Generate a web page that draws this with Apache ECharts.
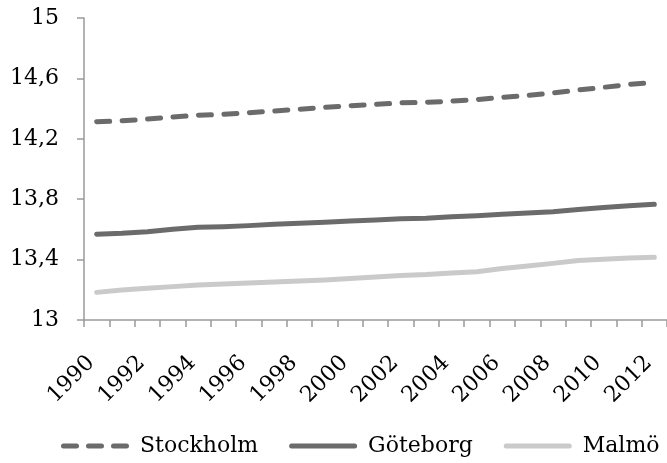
<!DOCTYPE html>
<html>
<head>
<meta charset="utf-8">
<script src="https://cdn.jsdelivr.net/npm/echarts@6/dist/echarts.min.js"></script>
<style>
  html, body { margin: 0; padding: 0; background: #fff; }
  #chart { width: 667px; height: 463px; }
</style>
</head>
<body>
<div id="chart"></div>
<script>
// Years on the category axis
var years = ['1990','1991','1992','1993','1994','1995','1996','1997','1998','1999','2000',
             '2001','2002','2003','2004','2005','2006','2007','2008','2009','2010','2011','2012'];

// Series values per year
var stockholm = [14.313, 14.319, 14.331, 14.344, 14.356, 14.362, 14.373, 14.384, 14.396, 14.408, 14.419,
                 14.428, 14.438, 14.442, 14.449, 14.460, 14.474, 14.488, 14.504, 14.523, 14.541, 14.560, 14.574];
var goteborg  = [13.568, 13.574, 13.585, 13.601, 13.614, 13.618, 13.625, 13.634, 13.640, 13.647, 13.656,
                 13.662, 13.670, 13.674, 13.683, 13.690, 13.700, 13.709, 13.717, 13.732, 13.745, 13.757, 13.766];
var malmo     = [13.183, 13.199, 13.210, 13.221, 13.232, 13.238, 13.245, 13.252, 13.258, 13.265, 13.275,
                 13.285, 13.295, 13.301, 13.311, 13.320, 13.341, 13.358, 13.375, 13.394, 13.402, 13.411, 13.415];

// Value axis range and step
var yMin = 13, yMax = 15, yStep = 0.4;

var seriesNames = ['Stockholm', 'Göteborg', 'Malmö'];

var FONT = 'DejaVu Serif';
var AXIS_COLOR = '#9a9a9a';
var DARK = '#6b6b6b';
var LIGHT = '#cacaca';

// Legend swatches: a rounded bar, and three rounded dashes for the dashed series
function pill(x, w) {
  return 'M' + (x + 2.5) + ',0h' + (w - 5) + 'a2.5,2.5 0 0 1 0,5h-' + (w - 5) + 'a2.5,2.5 0 0 1 0,-5z';
}
var ICON_SOLID = 'path://' + pill(0, 68);
var ICON_DASHED = 'path://' + pill(0, 18) + pill(25, 18) + pill(50, 18);

var chart = echarts.init(document.getElementById('chart'), null, { renderer: 'canvas' });

function lineSeries(name, data, color, dashed) {
  return {
    name: name,
    type: 'line',
    data: data,
    symbol: 'none',
    smooth: false,
    lineStyle: {
      color: color,
      width: 5,
      type: dashed ? [13, 12.5] : 'solid',
      cap: 'round',
      join: 'round'
    },
    itemStyle: { color: color },
    emphasis: { disabled: true }
  };
}

chart.setOption({
  animation: false,
  backgroundColor: '#ffffff',
  grid: { left: 84, top: 18, bottom: 143, width: 584, containLabel: false },
  legend: {
    left: 56,
    top: 430,
    itemWidth: 68,
    itemHeight: 5,
    itemGap: 31,
    data: [
      { name: seriesNames[0], icon: ICON_DASHED },
      { name: seriesNames[1], icon: ICON_SOLID },
      { name: seriesNames[2], icon: ICON_SOLID }
    ],
    textStyle: { fontFamily: FONT, fontSize: 22, color: '#000', padding: [0, 0, 0, 6] }
  },
  xAxis: {
    type: 'category',
    data: years,
    boundaryGap: true,
    axisLine: { lineStyle: { color: AXIS_COLOR, width: 1.5 } },
    axisTick: { show: true, interval: 0, length: 7, lineStyle: { color: AXIS_COLOR, width: 1.5 } },
    axisLabel: {
      interval: 1,
      rotate: 45,
      margin: 34,
      padding: [0, 8, 0, 0],
      fontFamily: FONT,
      fontSize: 22,
      color: '#000'
    },
    splitLine: { show: false }
  },
  yAxis: {
    type: 'value',
    min: yMin,
    max: yMax,
    interval: yStep,
    axisLine: { show: true, lineStyle: { color: AXIS_COLOR, width: 1.5 } },
    axisTick: { show: true, length: 7, lineStyle: { color: AXIS_COLOR, width: 1.5 } },
    axisLabel: {
      margin: 25,
      fontFamily: FONT,
      fontSize: 22,
      color: '#000',
      formatter: function (v) { return String(Math.round(v * 10) / 10).replace('.', ','); }
    },
    splitLine: { show: false }
  },
  series: [
    lineSeries(seriesNames[0], stockholm, DARK, true),
    lineSeries(seriesNames[1], goteborg, DARK, false),
    lineSeries(seriesNames[2], malmo, LIGHT, false)
  ]
});
</script>
</body>
</html>
